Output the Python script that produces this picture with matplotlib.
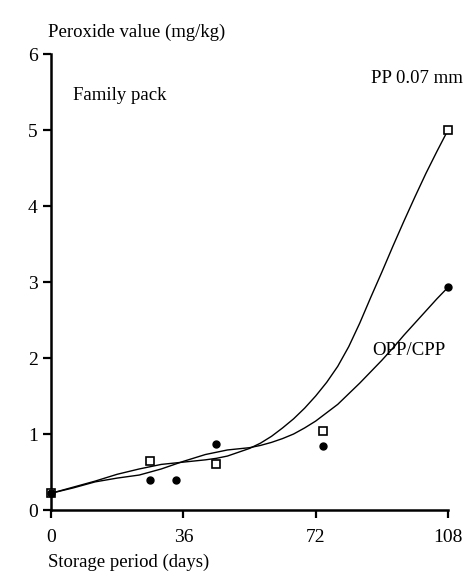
import numpy as np
import matplotlib.pyplot as plt

plt.rcParams['font.family'] = ['Liberation Serif', 'DejaVu Serif']

# measured points
pp_days = [0, 27, 45, 74, 108]
pp_vals = [0.22, 0.65, 0.61, 1.04, 5.0]
opp_days = [0, 27, 34, 45, 74, 108]
opp_vals = [0.22, 0.40, 0.40, 0.87, 0.84, 2.93]

# fitted curves
curve_days = [0, 6, 12, 18, 24, 30, 36, 42, 45, 48, 54, 57, 60, 63, 66, 69, 72, 75,
              78, 81, 84, 87, 90, 93, 96, 99, 102, 105, 108]
pp_curve = [0.22, 0.30, 0.38, 0.47, 0.54, 0.60, 0.63, 0.66, 0.68, 0.71, 0.81, 0.88,
            0.97, 1.08, 1.20, 1.34, 1.50, 1.68, 1.89, 2.15, 2.46, 2.80, 3.13, 3.47,
            3.80, 4.12, 4.43, 4.72, 5.00]
opp_curve = [0.22, 0.29, 0.37, 0.42, 0.46, 0.54, 0.64, 0.73, 0.76, 0.79, 0.82, 0.85,
             0.89, 0.94, 1.00, 1.08, 1.17, 1.28, 1.39, 1.53, 1.67, 1.82, 1.97, 2.13,
             2.30, 2.46, 2.62, 2.78, 2.93]

fig = plt.figure(figsize=(4.66, 5.82), dpi=100)
ax = fig.add_axes([0.1094, 0.1237, 0.852, 0.7835])

ax.plot(curve_days, pp_curve, color='black', lw=1.0)
ax.plot(curve_days, opp_curve, color='black', lw=1.0)
ax.plot(pp_days, pp_vals, 's', mfc='white', mec='black', mew=1.2, ms=6, clip_on=False, zorder=3)
ax.plot(opp_days, opp_vals, 'o', color='black', ms=5, clip_on=False, zorder=4)

ax.set_xlim(0, 108)
ax.set_ylim(0, 6)
ax.set_xticks([0, 36, 72, 108])
ax.set_yticks([0, 1, 2, 3, 4, 5, 6])
for s in ['top', 'right']:
    ax.spines[s].set_visible(False)
for s in ['left', 'bottom']:
    ax.spines[s].set_linewidth(1.8)
ax.tick_params(axis='both', labelsize=14, width=1.6, length=6)
ax.tick_params(axis='x', pad=8)

fig.text(0.103, 0.945, 'Peroxide value (mg/kg)', fontsize=13.5, ha='left', va='center')
fig.text(0.103, 0.034, 'Storage period (days)', fontsize=13.5, ha='left', va='center')
ax.text(6, 5.46, 'Family pack', fontsize=13.5, ha='left', va='center')
ax.text(112, 5.68, 'PP 0.07 mm', fontsize=13.5, ha='right', va='center')
ax.text(87.3, 2.1, 'OPP/CPP', fontsize=13.5, ha='left', va='center')

fig.savefig('out.png')
